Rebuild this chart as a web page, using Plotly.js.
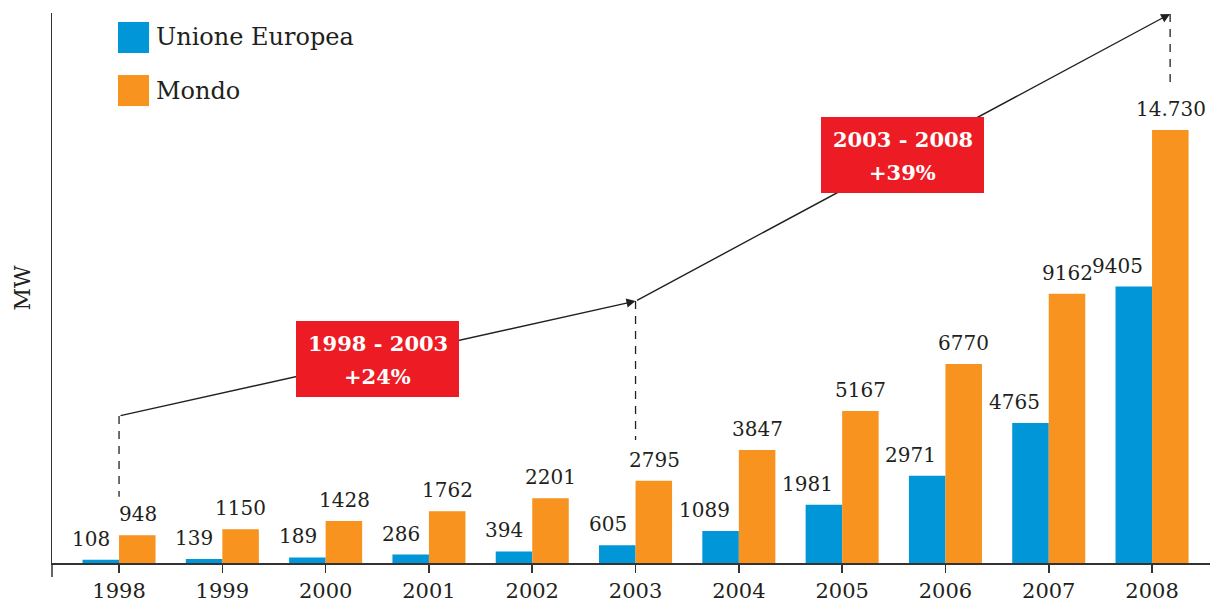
<!DOCTYPE html>
<html>
<head>
<meta charset="utf-8">
<script src="https://cdn.plot.ly/plotly-3.0.1.min.js"></script>
<style>
  html, body { margin: 0; padding: 0; background: white; }
  #chart { width: 1210px; height: 605px; }
</style>
</head>
<body>
<div id="chart"></div>
<script>
// data
var years = ['1998', '1999', '2000', '2001', '2002', '2003', '2004', '2005', '2006', '2007', '2008'];
var ue = [108, 139, 189, 286, 394, 605, 1089, 1981, 2971, 4765, 9405];
var mondo = [948, 1150, 1428, 1762, 2201, 2795, 3847, 5167, 6770, 9162, 14730];

// growth arrows (MW levels on the trend line)
var trendStart = 5000;
var trendMid = 8910;
var trendEnd = 18680;
var periods = ['1998 - 2003', '2003 - 2008'];
var growth = ['+24%', '+39%'];

var BLUE = '#0096D8';
var ORANGE = '#F7931E';
var RED = '#ED1C24';
var INK = '#231F20';
var FONT = 'DejaVu Serif, serif';

function fmt(v) {
    // italian thousands separator only shown on the 5 digit value
    var s = String(v);
    if (v >= 10000) s = s.slice(0, -3) + '.' + s.slice(-3);
    return s;
}

var traceUe = {
    x: years, y: ue, type: 'bar', name: 'Unione Europea',
    marker: { color: BLUE }, hoverinfo: 'none'
};
var traceMondo = {
    x: years, y: mondo, type: 'bar', name: 'Mondo',
    marker: { color: ORANGE }, hoverinfo: 'none'
};

var annotations = [];

// value labels
years.forEach(function (yr, i) {
    annotations.push({
        x: i, y: ue[i], xref: 'x', yref: 'y', text: fmt(ue[i]),
        showarrow: false, xanchor: 'right', yanchor: 'bottom',
        xshift: -7, yshift: 7,
        font: { family: FONT, size: 20, color: INK }
    });
    annotations.push({
        x: i, y: mondo[i], xref: 'x', yref: 'y', text: fmt(mondo[i]),
        showarrow: false, xanchor: 'center', yanchor: 'bottom',
        xshift: 18.5, yshift: 7,
        font: { family: FONT, size: 20, color: INK }
    });
});

// trend arrows
var arrowStyle = { showarrow: true, arrowhead: 2, arrowsize: 1.3, arrowwidth: 1.4,
    arrowcolor: INK, standoff: 0, text: '', xref: 'x', yref: 'y', axref: 'x', ayref: 'y' };
annotations.push(Object.assign({}, arrowStyle, { x: 5, y: trendMid, ax: 0, ay: trendStart }));
annotations.push(Object.assign({}, arrowStyle, { x: 10.175, y: trendEnd, ax: 5, ay: trendMid }));

// red boxes
var boxes = [{ x: 2.502, y: 6950 }, { x: 7.585, y: 13880 }];
boxes.forEach(function (b, i) {
    annotations.push({
        x: b.x, y: b.y, xref: 'x', yref: 'y', text: ' ', showarrow: false,
        width: 163, height: 76, bgcolor: RED, borderpad: 0, borderwidth: 0
    });
    annotations.push({
        x: b.x, y: b.y, xref: 'x', yref: 'y', text: '<b>' + periods[i] + '</b>',
        showarrow: false, yshift: 15,
        font: { family: FONT, size: 21, color: 'white' }
    });
    annotations.push({
        x: b.x, y: b.y, xref: 'x', yref: 'y', text: '<b>' + growth[i] + '</b>',
        showarrow: false, yshift: -18,
        font: { family: FONT, size: 21, color: 'white' }
    });
});

// legend
var legendItems = [['Unione Europea', BLUE, 0.9555], ['Mondo', ORANGE, 0.859]];
var shapes = [];
legendItems.forEach(function (it) {
    shapes.push({
        type: 'rect', xref: 'paper', yref: 'paper',
        x0: 0.057, x1: 0.0838, y0: it[2] - 0.0282, y1: it[2] + 0.0282,
        fillcolor: it[1], line: { width: 0 }
    });
    annotations.push({
        x: 0.088, y: it[2], xref: 'paper', yref: 'paper', text: it[0],
        showarrow: false, xanchor: 'left', yanchor: 'middle',
        font: { family: FONT, size: 24, color: INK }
    });
});

// dashed drop lines
var dash = { color: INK, width: 1.3, dash: '8px,7px' };
shapes.push({ type: 'line', xref: 'x', yref: 'y', x0: 0, x1: 0, y0: trendStart, y1: 2250, line: dash });
shapes.push({ type: 'line', xref: 'x', yref: 'y', x0: 5, x1: 5, y0: trendMid, y1: 4180, line: dash });
shapes.push({ type: 'line', xref: 'x', yref: 'y', x0: 10.175, x1: 10.175, y0: trendEnd, y1: 16190, line: dash });

// y axis line runs a bit under the x axis
shapes.push({ type: 'line', xref: 'paper', yref: 'paper', x0: 0, x1: 0, y0: 0, y1: -0.0255,
    line: { color: '#333', width: 1.5 } });

var layout = {
    width: 1210, height: 605,
    margin: { l: 52, r: 0, t: 13, b: 42 },
    paper_bgcolor: 'white', plot_bgcolor: 'white',
    barmode: 'group', bargap: 0.293, bargroupgap: 0,
    showlegend: false,
    font: { family: FONT, color: INK },
    xaxis: {
        type: 'category', range: [-0.649, 10.561],
        showline: true, linecolor: '#333', linewidth: 1.5,
        ticks: 'outside', ticklen: 8, tickcolor: '#333', tickwidth: 1.5,
        showgrid: false, zeroline: false,
        tickfont: { family: FONT, size: 21, color: INK }
    },
    // second axis only for the longer tick marks
    xaxis2: {
        overlaying: 'x', anchor: 'y', range: [-0.649, 10.561],
        tick0: 0, dtick: 1, ticks: 'outside', ticklen: 14, tickcolor: '#333', tickwidth: 1.5,
        showticklabels: false, showline: false, showgrid: false, zeroline: false
    },
    yaxis: {
        range: [0, 18710], showline: true, linecolor: '#333', linewidth: 1.5,
        showticklabels: false, ticks: '', showgrid: false, zeroline: false,
        title: { text: 'MW', standoff: 14, font: { family: FONT, size: 22, color: INK } }
    },
    annotations: annotations,
    shapes: shapes
};

Plotly.newPlot('chart', [traceUe, traceMondo], layout, { staticPlot: true });
</script>
</body>
</html>
